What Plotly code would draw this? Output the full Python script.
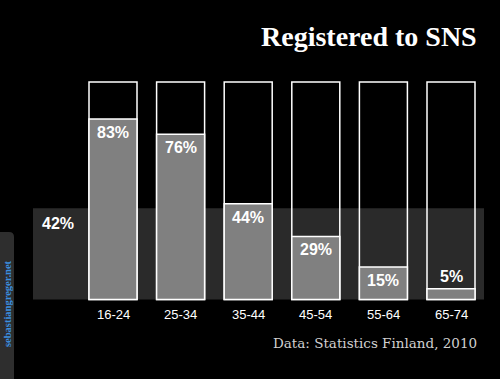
import plotly.graph_objects as go

categories = ["16-24", "25-34", "35-44", "45-54", "55-64", "65-74"]
values = [83, 76, 44, 29, 15, 5]
average = 42
title = "Registered to SNS"
source = "Data: Statistics Finland, 2010"
credit = "sebastiangreger.net"

W, H = 500, 379
x = list(range(len(categories)))

fig = go.Figure()
fig.add_trace(go.Bar(x=x, y=[100] * len(x), width=0.71,
                     marker=dict(color="rgba(0,0,0,0)", line=dict(color="white", width=1.5)),
                     hoverinfo="skip"))
fig.add_trace(go.Bar(x=x, y=values, width=0.71,
                     marker=dict(color="#808080", line=dict(color="white", width=1.5)),
                     hoverinfo="skip"))

px_per_unit = 67.6
r0 = -113 / px_per_unit

# average band
fig.add_shape(type="rect", xref="x", yref="y", x0=33 / px_per_unit + r0, x1=484 / px_per_unit + r0,
              y0=0, y1=average, fillcolor="#2a2a2a", line=dict(width=0), layer="below")

lab_font = dict(family="Liberation Sans, Arial", size=16, color="white")
annotations = []
for i, v in enumerate(values):
    inside = v >= 10
    annotations.append(dict(x=i, y=v, xref="x", yref="y", text=f"<b>{v}%</b>",
                            showarrow=False, yanchor="top" if inside else "bottom",
                            yshift=-3 if inside else 2, font=lab_font))
annotations.append(dict(x=58 / px_per_unit + r0, y=average, xref="x", yref="y", text=f"<b>{average}%</b>",
                        showarrow=False, xanchor="center", yanchor="top", yshift=-5, font=lab_font))
for i, c in enumerate(categories):
    annotations.append(dict(x=i, y=0, xref="x", yref="y", text=c, showarrow=False,
                            yanchor="top", yshift=-5,
                            font=dict(family="Liberation Sans, Arial", size=13, color="white")))
annotations.append(dict(x=479 / W, y=1 - 36 / H, xref="paper", yref="paper", text=f"<b>{title}</b>",
                        showarrow=False, xanchor="right", yanchor="middle",
                        font=dict(family="Liberation Serif", size=28, color="white")))
annotations.append(dict(x=479 / W, y=1 - 343 / H, xref="paper", yref="paper", text=source,
                        showarrow=False, xanchor="right", yanchor="middle",
                        font=dict(family="DejaVu Serif", size=13.5, color="#d0d0d0")))
annotations.append(dict(x=7 / W, y=1 - 304 / H, xref="paper", yref="paper", text=f"<b>{credit}</b>",
                        showarrow=False, xanchor="center", yanchor="middle", textangle=-90,
                        font=dict(family="Liberation Serif", size=10.5, color="#3b8fe0")))

# credit tab (rounded top-right corner), paper coords
b, t = 0, 1 - 232 / H
xr = 14 / W
xc = 9 / W
tc = 1 - 237 / H
tab_path = f"M 0 {b} L 0 {t} L {xc} {t} Q {xr} {t} {xr} {tc} L {xr} {b} Z"
fig.add_shape(type="path", xref="paper", yref="paper", path=tab_path,
              fillcolor="#2e2e2e", line=dict(width=0), layer="below")

fig.update_layout(
    width=W, height=H, margin=dict(l=0, r=0, t=0, b=0),
    paper_bgcolor="black", plot_bgcolor="black",
    barmode="overlay", showlegend=False,
    xaxis=dict(range=[r0, r0 + W / px_per_unit], visible=False, fixedrange=True),
    yaxis=dict(range=[-79.5 / 2.175, -79.5 / 2.175 + H / 2.175], visible=False, fixedrange=True),
    annotations=annotations,
)
fig.write_html("out.html")
